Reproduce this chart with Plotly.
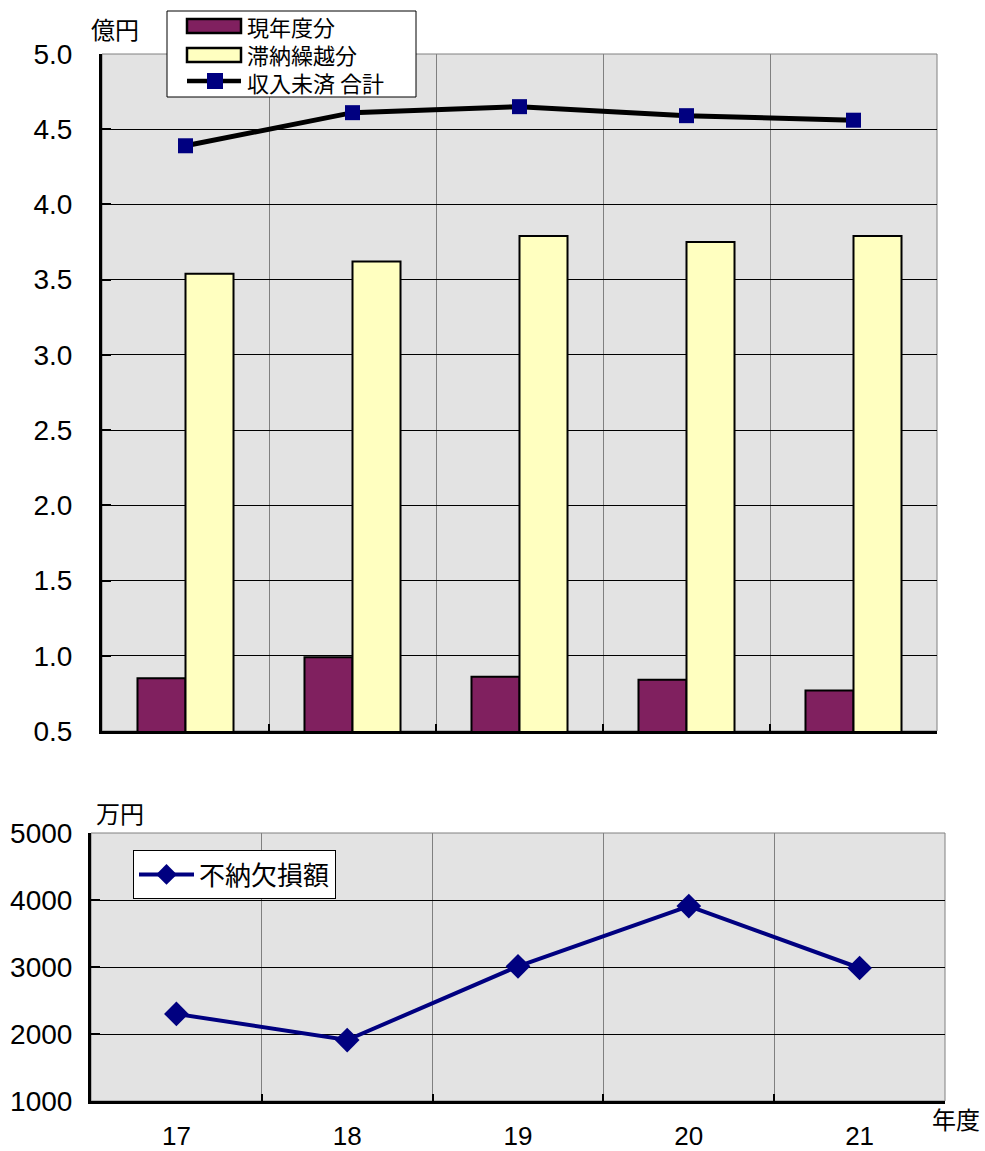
import plotly.graph_objects as go

# 年度
years = ["17", "18", "19", "20", "21"]
# 収入未済額 内訳（億円）
current_year = [0.85, 0.99, 0.86, 0.84, 0.77]
carried_over = [3.54, 3.62, 3.79, 3.75, 3.79]
unpaid_total = [4.39, 4.61, 4.65, 4.59, 4.56]
# 不納欠損額（万円）
deficit = [2300, 1910, 3010, 3910, 2985]

top_ticks = [0.5, 1.0, 1.5, 2.0, 2.5, 3.0, 3.5, 4.0, 4.5, 5.0]
bottom_ticks = [1000, 2000, 3000, 4000, 5000]

W, H = 985, 1151
JP = "Noto Sans CJK JP"
NUM = "Liberation Sans, Arial"

PURPLE = "#80205F"
CREAM = "#FFFFC0"
NAVY = "#000080"

def px_x(v):
    return v / W

def px_y(v):
    return 1 - v / H

fig = go.Figure()

fig.add_trace(go.Bar(
    x=years, y=current_year, name="現年度分", showlegend=False,
    marker=dict(color=PURPLE, line=dict(color="black", width=2)),
    xaxis="x", yaxis="y",
))
fig.add_trace(go.Bar(
    x=years, y=carried_over, name="滞納繰越分", showlegend=False,
    marker=dict(color=CREAM, line=dict(color="black", width=2)),
    xaxis="x", yaxis="y",
))
fig.add_trace(go.Scatter(
    x=years, y=unpaid_total, name="収入未済 合計", mode="lines+markers",
    showlegend=False,
    line=dict(color="black", width=5),
    marker=dict(symbol="square", size=15, color=NAVY),
    xaxis="x", yaxis="y",
))
fig.add_trace(go.Scatter(
    x=years, y=deficit, name="不納欠損額", mode="lines+markers",
    line=dict(color=NAVY, width=4),
    marker=dict(symbol="diamond", size=19, color=NAVY),
    xaxis="x2", yaxis="y2", legend="legend2",
))

top_dom_x = [px_x(102), px_x(937)]
top_dom_y = [px_y(731), px_y(54)]
bot_dom_x = [px_x(91), px_x(945)]
bot_dom_y = [px_y(1101), px_y(833)]

common_x = dict(
    type="category", tickson="boundaries", range=[-0.5, 4.5],
    showgrid=True, gridcolor="#808080", gridwidth=1, showline=True,
    linecolor="black", linewidth=3, ticks="inside", ticklen=7,
    tickcolor="black", tickwidth=2, zeroline=False, fixedrange=True,
)
common_y = dict(
    showgrid=True, gridcolor="black", gridwidth=1, showline=True,
    linecolor="black", linewidth=3, ticks="inside", ticklen=9,
    tickcolor="black", tickwidth=2, zeroline=False,
    tickfont=dict(family=NUM, size=28, color="black"), fixedrange=True,
)

fig.update_layout(
    width=W, height=H,
    margin=dict(l=0, r=0, t=0, b=0, autoexpand=False),
    paper_bgcolor="white",
    plot_bgcolor="#E3E3E3",
    barmode="group", bargap=0.425, bargroupgap=0,
    xaxis=dict(domain=top_dom_x, anchor="y", showticklabels=False, **common_x),
    yaxis=dict(domain=top_dom_y, anchor="x", range=[0.5, 5.0],
               tickvals=top_ticks, tickformat=".1f", ticklabelstandoff=21,
               **common_y),
    xaxis2=dict(domain=bot_dom_x, anchor="y2", showticklabels=True,
                tickfont=dict(family=NUM, size=26, color="black"),
                ticklabelstandoff=10, **common_x),
    yaxis2=dict(domain=bot_dom_y, anchor="x2", range=[1000, 5000],
                tickvals=bottom_ticks, ticklabelstandoff=10, **common_y),
    legend2=dict(
        x=px_x(133), y=px_y(850), xanchor="left", yanchor="top",
        bgcolor="white", bordercolor="black", borderwidth=1,
        font=dict(family=JP, size=26, color="black"), itemwidth=55,
    ),
    showlegend=True,
)

# plot-area outlines
for xr, yr in (("x domain", "y domain"), ("x2 domain", "y2 domain")):
    fig.add_shape(type="rect", xref=xr, yref=yr, x0=0, x1=1, y0=0, y1=1,
                  line=dict(color="#808080", width=1), layer="below")

# legend box for the upper chart
def paper_rect(x0, y0, x1, y1, **kw):
    fig.add_shape(type="rect", xref="paper", yref="paper",
                  x0=px_x(x0), x1=px_x(x1), y0=px_y(y1), y1=px_y(y0), **kw)

paper_rect(167, 11, 416, 97, fillcolor="white", line=dict(color="black", width=1))
paper_rect(187, 19, 241, 33, fillcolor=PURPLE, line=dict(color="black", width=2.5))
paper_rect(187, 48, 241, 62, fillcolor=CREAM, line=dict(color="black", width=2.5))
fig.add_shape(type="line", xref="paper", yref="paper",
              x0=px_x(187), x1=px_x(241), y0=px_y(81), y1=px_y(81),
              line=dict(color="black", width=4.5))
paper_rect(207, 73, 223, 89, fillcolor=NAVY, line=dict(width=0))

for label, yc in (("現年度分", 26), ("滞納繰越分", 54), ("収入未済 合計", 81)):
    fig.add_annotation(text=label, x=px_x(246), y=px_y(yc), xref="paper",
                       yref="paper", xanchor="left", yanchor="middle",
                       showarrow=False, height=27, borderpad=0,
                       font=dict(family=JP, size=22, color="black"))

# unit labels
fig.add_annotation(text="億円", x=px_x(89), y=px_y(29), xref="paper", yref="paper",
                   xanchor="left", yanchor="middle", showarrow=False,
                   font=dict(family=JP, size=24, color="black"))
fig.add_annotation(text="万円", x=px_x(94), y=px_y(812), xref="paper", yref="paper",
                   xanchor="left", yanchor="middle", showarrow=False,
                   font=dict(family=JP, size=24, color="black"))
fig.add_annotation(text="年度", x=px_x(982), y=px_y(1118), xref="paper", yref="paper",
                   xanchor="right", yanchor="middle", showarrow=False,
                   font=dict(family=JP, size=24, color="black"))

fig.write_html("out.html")
